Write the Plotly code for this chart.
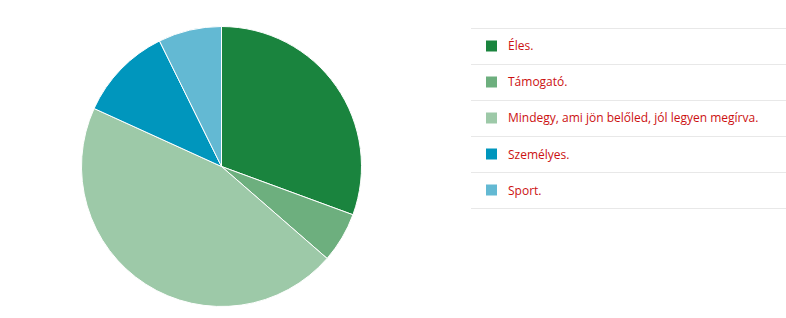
import plotly.graph_objects as go

W, H = 786, 318

labels = ["Éles.", "Támogató.", "Mindegy, ami jön belőled, jól legyen megírva.", "Személyes.", "Sport."]
values = [30.6, 5.8, 45.4, 10.9, 7.3]
colors = ["#1a843e", "#6daf7e", "#9dc9a8", "#0096bd", "#63b9d3"]

def px(x):
    return x / W

def py(y):
    return 1 - y / H

cx, cy, r = 221.5, 166.5, 140

fig = go.Figure()
fig.add_trace(go.Pie(
    labels=labels,
    values=values,
    marker=dict(colors=colors, line=dict(color="white", width=1)),
    sort=False,
    direction="clockwise",
    rotation=0,
    textinfo="none",
    hoverinfo="label+percent",
    showlegend=False,
    domain=dict(x=[px(cx - r), px(cx + r)], y=[py(cy + r), py(cy - r)]),
))

shapes = []
annotations = []
row_top = 28.5
row_h = 36
for i, (lab, col) in enumerate(zip(labels, colors)):
    y0 = row_top + i * row_h
    shapes.append(dict(type="line", xref="paper", yref="paper",
                       x0=px(471), x1=1, y0=py(y0), y1=py(y0),
                       line=dict(color="#e8e8e8", width=1)))
    mid = y0 + 17.5
    shapes.append(dict(type="rect", xref="paper", yref="paper",
                       x0=px(486), x1=px(497), y0=py(mid - 5.5), y1=py(mid + 5.5),
                       fillcolor=col, line=dict(width=0)))
    annotations.append(dict(text=lab, xref="paper", yref="paper",
                            x=px(506), y=py(mid), xanchor="left", yanchor="middle",
                            showarrow=False,
                            font=dict(family="Open Sans", size=12, color="#cc1111")))
y_last = row_top + len(labels) * row_h
shapes.append(dict(type="line", xref="paper", yref="paper",
                   x0=px(471), x1=1, y0=py(y_last), y1=py(y_last),
                   line=dict(color="#e8e8e8", width=1)))

fig.update_layout(
    width=W, height=H,
    margin=dict(l=0, r=0, t=0, b=0),
    paper_bgcolor="white", plot_bgcolor="white",
    shapes=shapes, annotations=annotations,
    font=dict(family="Open Sans"),
)

fig.write_html("out.html")
